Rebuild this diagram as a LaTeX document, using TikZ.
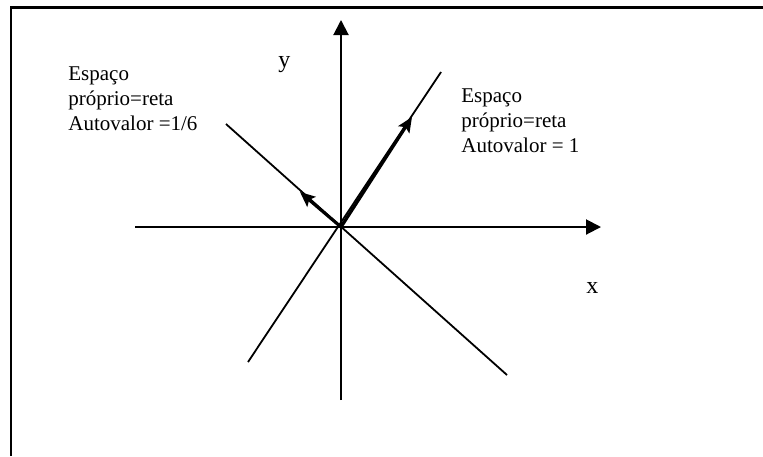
\documentclass[tikz,border=0pt]{standalone}
\usepackage{fontspec}
\setmainfont{Liberation Serif}
\usetikzlibrary{arrows.meta}
\tikzset{
    axis/.style={line width=1pt, -{Triangle[length=7.5pt, width=7.5pt]}},
    eline/.style={line width=0.9pt},
    evec/.style={line width=1.6pt, -{Stealth[length=7.5pt, width=6.5pt, inset=1.5pt]}},
    lbl/.style={font=\fontsize{10.5}{12.5}\selectfont, inner sep=0pt, align=left, anchor=base west}
}
\begin{document}
\begin{tikzpicture}[x=0.5pt, y=-0.5pt]
    \useasboundingbox (0,0) rectangle (763,456);
    % Frame (only top and left edges show)
    \draw[line width=1.3pt] (11,456) -- (11,7.5) -- (763,7.5);

    % Points
    \coordinate (O) at (341,227);
    \coordinate (xL) at (135,227);
    \coordinate (xR) at (601,227);
    \coordinate (yB) at (341,400);
    \coordinate (yT) at (341,20);
    \coordinate (A1) at (226,124);
    \coordinate (A2) at (507,375);
    \coordinate (B1) at (441,72);
    \coordinate (B2) at (248,362);
    \coordinate (vA) at (300,192);
    \coordinate (vB) at (412,117);

    % Axes
    \draw[axis] (xL) -- (xR);
    \draw[axis] (yB) -- (yT);

    % Eigenlines
    \draw[eline] (A1) -- (A2);
    \draw[eline] (B2) -- (B1);

    % Eigenvectors
    \draw[evec] (O) -- (vA);
    \draw[evec] (O) -- (vB);

    % Labels (base = last line)
    \node[lbl, font=\fontsize{12}{12.5}\selectfont] (ylab) at (278,67) {y};
    \node[lbl, font=\fontsize{12}{12.5}\selectfont] (xlab) at (586,293) {x};
    \node[lbl] (lblA) at (68,130) {Espaço\\próprio=reta\\Autovalor =1/6};
    \node[lbl] (lblB) at (461,152) {Espaço\\próprio=reta\\Autovalor = 1};
\end{tikzpicture}
\end{document}
